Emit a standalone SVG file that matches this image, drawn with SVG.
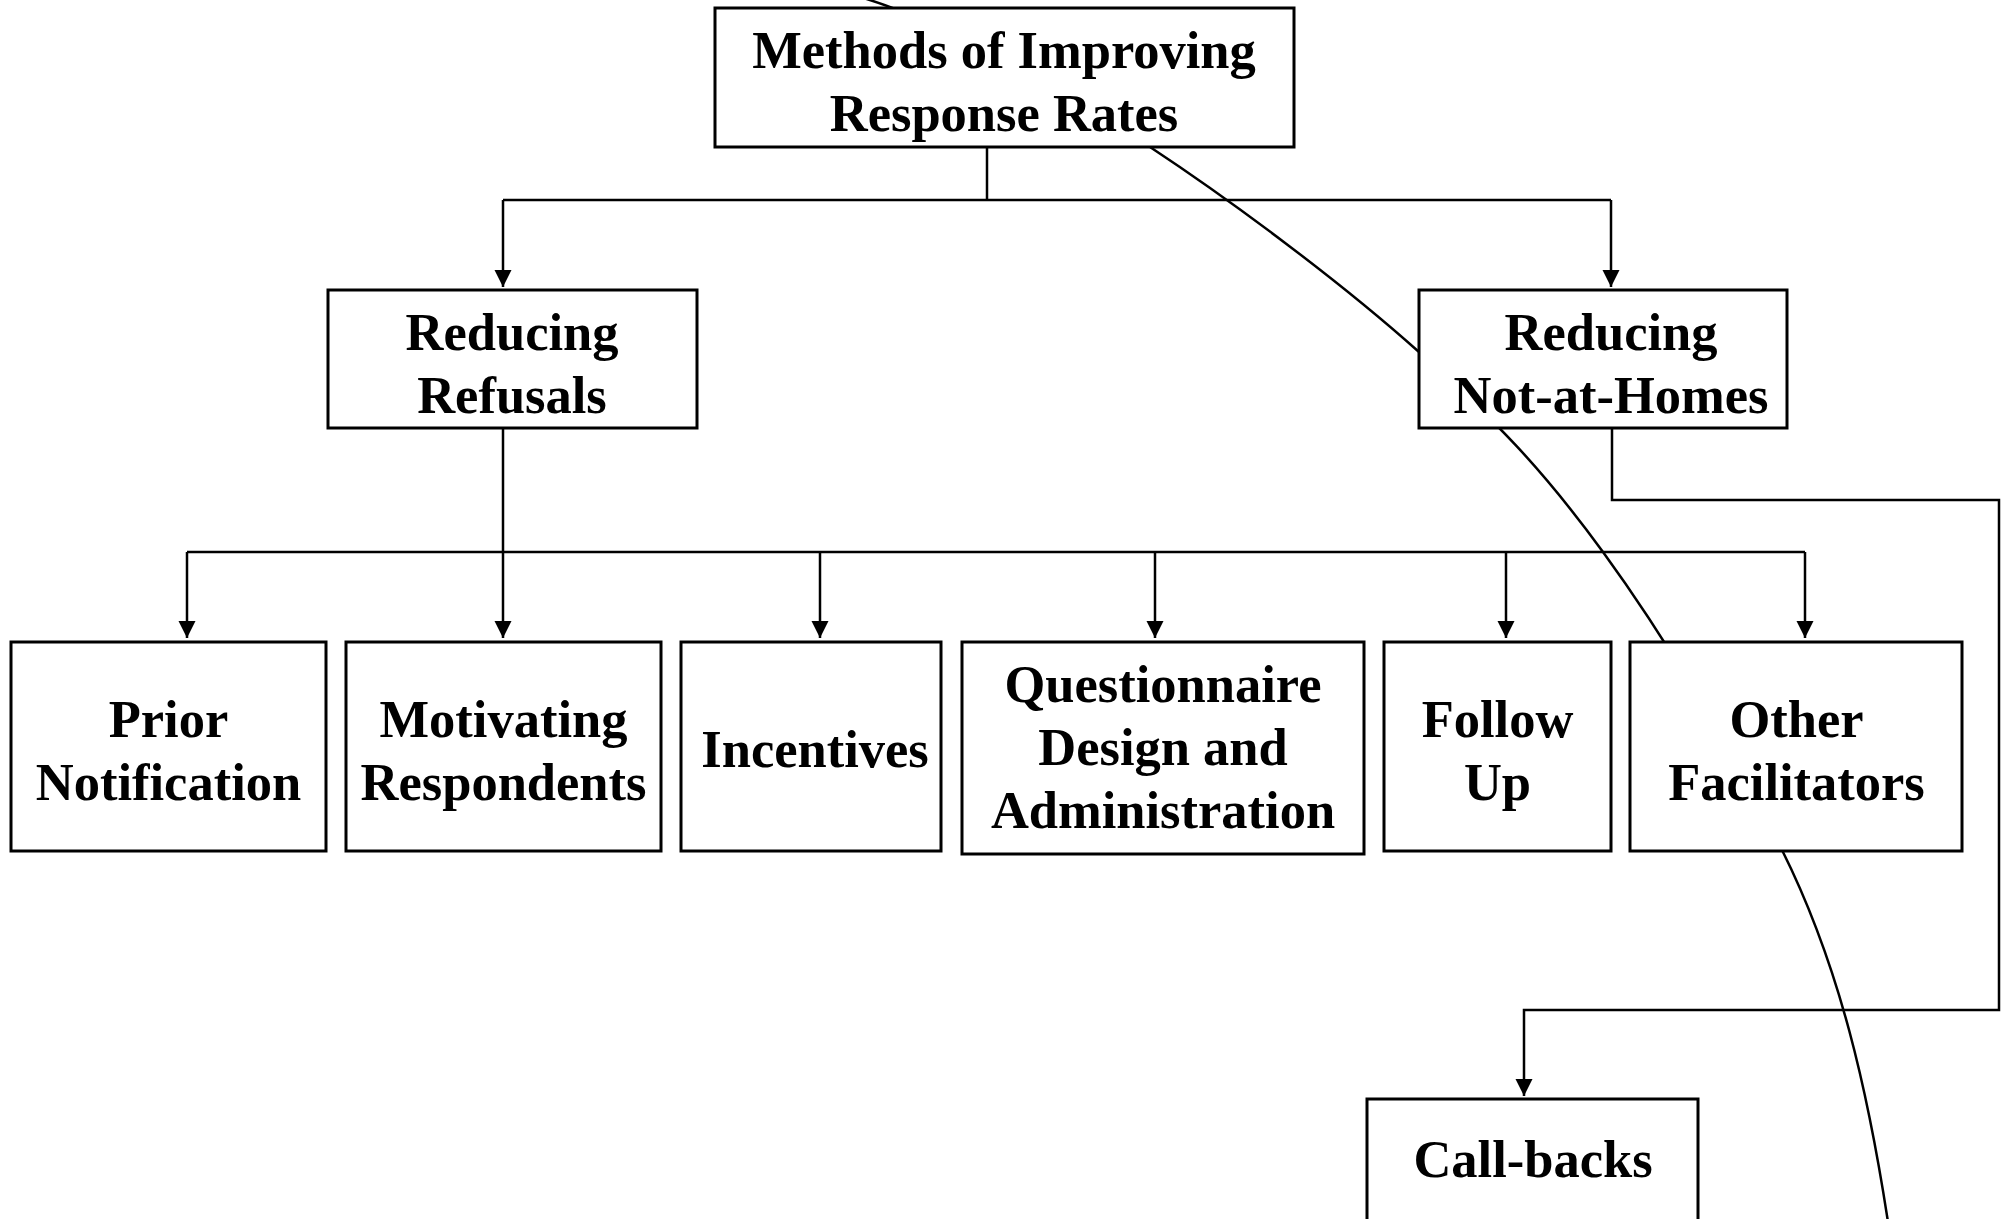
<svg xmlns="http://www.w3.org/2000/svg" width="2007" height="1219" viewBox="0 0 2007 1219">
<style>
.box{fill:#fff;stroke:#000;stroke-width:3}
.lbl{font-family:"Liberation Serif","Times New Roman",serif;font-weight:bold;font-size:52.5px;fill:#000;text-anchor:middle}
.ln{fill:none;stroke:#000;stroke-width:2.5}
.arr{fill:none;stroke:#000;stroke-width:2.5;marker-end:url(#ah)}
</style>
<defs>
<marker id="ah" markerUnits="userSpaceOnUse" markerWidth="18" markerHeight="18" refX="17" refY="8.5" orient="auto">
<path d="M0,0 L17,8.5 L0,17 Z" fill="#000"/>
</marker>
</defs>
<g id="connectors">
<path class="ln" d="M860,-3 C956,25 1064,96 1150,147 C1236.8,204.3 1343.5,284.5 1419,352 C1494.5,419.5 1542.5,469 1603,552 C1663.5,635 1728,742 1782,850 C1840,966 1868,1092 1888,1222"/>
<path class="ln" d="M987,147 V200"/>
<path class="ln" d="M503,200 H1611"/>
<path class="arr" d="M503,200 V287"/>
<path class="arr" d="M1611,200 V287"/>
<path class="arr" d="M503,428 V638"/>
<path class="ln" d="M187,552 H1805"/>
<path class="arr" d="M187,552 V638"/>
<path class="arr" d="M820,552 V638"/>
<path class="arr" d="M1155,552 V638"/>
<path class="arr" d="M1506,552 V638"/>
<path class="arr" d="M1805,552 V638"/>
<path class="arr" d="M1612,428 V500 H1999 V1010 H1524 V1096"/>
</g>
<g id="node-methods">
<rect class="box" x="715" y="8" width="579" height="139"/>
<text class="lbl" x="1004" y="68">Methods of Improving</text>
<text class="lbl" x="1004" y="131">Response Rates</text>
</g>
<g id="node-refusals">
<rect class="box" x="328" y="290" width="369" height="138"/>
<text class="lbl" x="512" y="350">Reducing</text>
<text class="lbl" x="512" y="413">Refusals</text>
</g>
<g id="node-notathomes">
<rect class="box" x="1419" y="290" width="368" height="138"/>
<text class="lbl" x="1611" y="350">Reducing</text>
<text class="lbl" x="1611" y="413">Not-at-Homes</text>
</g>
<g id="node-prior">
<rect class="box" x="11" y="642" width="315" height="209"/>
<text class="lbl" x="168.5" y="737">Prior</text>
<text class="lbl" x="168.5" y="800">Notification</text>
</g>
<g id="node-motivating">
<rect class="box" x="346" y="642" width="315" height="209"/>
<text class="lbl" x="503.5" y="737">Motivating</text>
<text class="lbl" x="503.5" y="800">Respondents</text>
</g>
<g id="node-incentives">
<rect class="box" x="681" y="642" width="260" height="209"/>
<text class="lbl" x="815" y="767">Incentives</text>
</g>
<g id="node-questionnaire">
<rect class="box" x="962" y="642" width="402" height="212"/>
<text class="lbl" x="1163" y="702">Questionnaire</text>
<text class="lbl" x="1163" y="765">Design and</text>
<text class="lbl" x="1163" y="828">Administration</text>
</g>
<g id="node-followup">
<rect class="box" x="1384" y="642" width="227" height="209"/>
<text class="lbl" x="1497.5" y="737">Follow</text>
<text class="lbl" x="1497.5" y="800">Up</text>
</g>
<g id="node-other">
<rect class="box" x="1630" y="642" width="332" height="209"/>
<text class="lbl" x="1796.5" y="737">Other</text>
<text class="lbl" x="1796.5" y="800">Facilitators</text>
</g>
<g id="node-callbacks">
<rect class="box" x="1367" y="1099" width="331" height="140"/>
<text class="lbl" x="1533" y="1177">Call-backs</text>
</g>
</svg>
